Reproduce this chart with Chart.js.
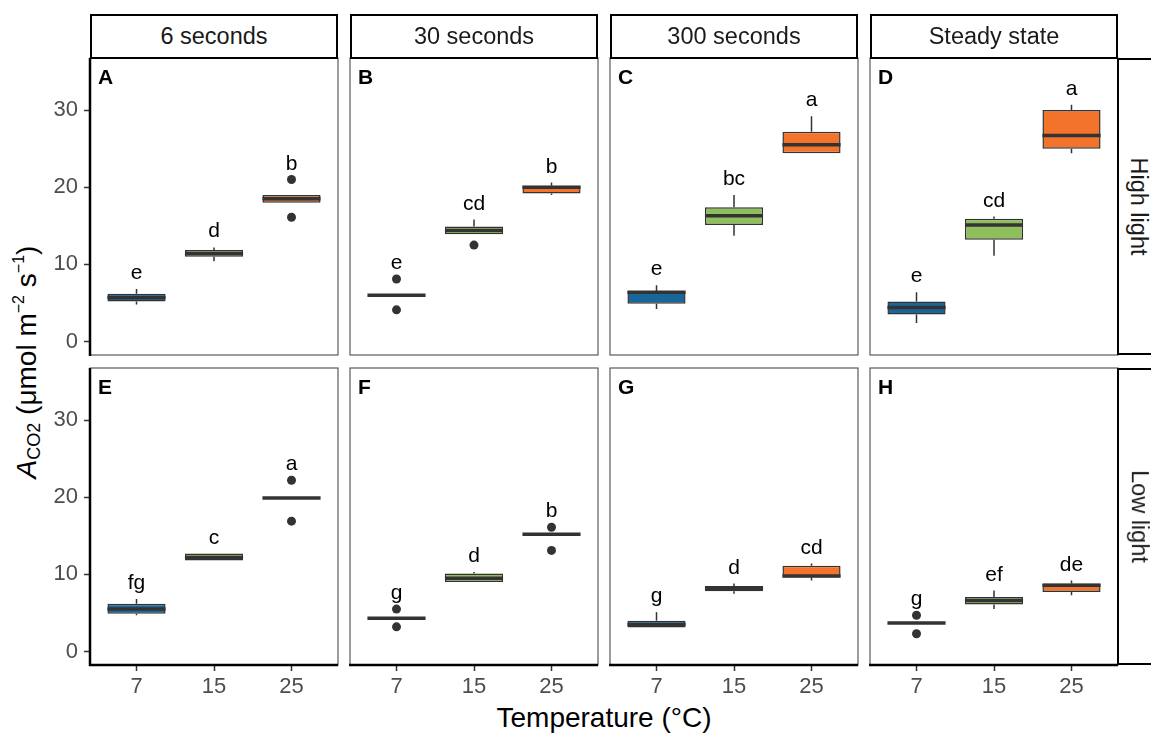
<!DOCTYPE html>
<html>
<head>
<meta charset="utf-8">
<script src="https://cdn.jsdelivr.net/npm/chart.js@4.4.0/dist/chart.umd.min.js"></script>
<style>
body { margin: 0; width: 1151px; height: 735px; overflow: hidden; background: #fff; position: relative; font-family: 'Liberation Sans', Arial, sans-serif; }
canvas { position: absolute; }
.strip { position: absolute; box-sizing: border-box; border: 2px solid #000; background: #fff; color: #1a1a1a; font-size: 23.5px; display: flex; align-items: center; justify-content: center; white-space: nowrap; }
.rstrip span { display: inline-block; transform: rotate(90deg); }
.ytitle { position: absolute; left: 27px; top: 362px; width: 0; height: 0; }
.ytitle div { position: absolute; transform: translate(-50%, -50%) rotate(-90deg); white-space: nowrap; font-size: 28px; color: #000; }
.ytitle sub { font-size: 18px; vertical-align: -4px; }
.ytitle sup { font-size: 16px; vertical-align: 12px; }
.xtitle { position: absolute; left: 0; width: 1208px; top: 702px; text-align: center; font-size: 28px; color: #000; }
</style>
</head>
<body>
<div class="ytitle"><div><i>A</i><sub>CO2</sub> (μmol m<sup>−2</sup> s<sup>−1</sup>)</div></div>
<div class="xtitle">Temperature (°C)</div>
<script>
var temps = ['7', '15', '25'];
var times = ['6 seconds', '30 seconds', '300 seconds', 'Steady state'];
var lights = ['High light', 'Low light'];
var tags = ['A', 'B', 'C', 'D', 'E', 'F', 'G', 'H'];
var yTicks = [0, 10, 20, 30];

// [lower whisker, Q1, median, Q3, upper whisker] for 7, 15, 25 °C
var boxA = [[4.8, 5.2, 5.7, 6.2, 6.8], [10.4, 11.0, 11.4, 11.85, 12.2], [18.0, 18.0, 18.5, 19.0, 19.0]];
var boxB = [[6.0, 6.0, 6.0, 6.0, 6.0], [13.9, 13.9, 14.4, 14.9, 15.8], [19.0, 19.2, 20.0, 20.2, 20.6]];
var boxC = [[4.2, 4.9, 6.4, 6.5, 7.3], [13.7, 15.1, 16.3, 17.4, 19.0], [24.4, 24.4, 25.5, 27.2, 29.2]];
var boxD = [[2.4, 3.5, 4.4, 5.2, 6.4], [11.1, 13.2, 15.1, 15.9, 16.2], [24.4, 25.0, 26.7, 30.0, 30.7]];
var boxE = [[4.7, 4.9, 5.5, 6.2, 6.8], [11.8, 11.8, 12.2, 12.7, 12.7], [19.9, 19.9, 19.9, 19.9, 19.9]];
var boxF = [[4.3, 4.3, 4.3, 4.3, 4.3], [9.0, 9.0, 9.5, 10.1, 10.3], [15.2, 15.2, 15.2, 15.2, 15.2]];
var boxG = [[3.1, 3.1, 3.5, 4.0, 5.1], [7.5, 7.8, 8.2, 8.5, 8.8], [9.2, 9.6, 9.8, 11.1, 11.4]];
var boxH = [[3.7, 3.7, 3.7, 3.7, 3.7], [5.5, 6.1, 6.6, 7.05, 7.9], [7.3, 7.7, 8.6, 8.8, 9.2]];

var outA = [[], [], [21.0, 16.1]];
var outB = [[8.1, 4.1], [12.5], []];
var outC = [[], [], []];
var outD = [[], [], []];
var outE = [[], [], [22.2, 16.9]];
var outF = [[5.5, 3.2], [], [16.1, 13.1]];
var outG = [[], [], []];
var outH = [[4.7, 2.3], [], []];

var letA = ['e', 'd', 'b'];
var letB = ['e', 'cd', 'b'];
var letC = ['e', 'bc', 'a'];
var letD = ['e', 'cd', 'a'];
var letE = ['fg', 'c', 'a'];
var letF = ['g', 'd', 'b'];
var letG = ['g', 'd', 'cd'];
var letH = ['g', 'ef', 'de'];

var boxes = [boxA, boxB, boxC, boxD, boxE, boxF, boxG, boxH];
var outliers = [outA, outB, outC, outD, outE, outF, outG, outH];
var letters = [letA, letB, letC, letD, letE, letF, letG, letH];

var tempColors = ['#19679a', '#8fbf5c', '#f4732b'];
var colX = [90, 350, 610, 870];
var rowY = [58, 368];
var PW = 248, PH = 297, EDGE = 24, AXW = 60, AXH = 40;

Chart.defaults.font.family = "'Liberation Sans', Arial, sans-serif";

var boxPlugin = {
  id: 'boxParts',
  beforeDatasetsDraw: function(chart) {
    var p = chart.options.plugins.boxParts;
    var ctx = chart.ctx, xs = chart.scales.x, ys = chart.scales.y;
    ctx.save();
    ctx.strokeStyle = '#333';
    ctx.lineWidth = 1.5;
    p.box.forEach(function(b, i) {
      var x = xs.getPixelForValue(i + 1);
      ctx.beginPath();
      ctx.moveTo(x, ys.getPixelForValue(b[3]));
      ctx.lineTo(x, ys.getPixelForValue(b[4]));
      ctx.moveTo(x, ys.getPixelForValue(b[1]));
      ctx.lineTo(x, ys.getPixelForValue(b[0]));
      ctx.stroke();
    });
    ctx.restore();
  },
  afterDatasetsDraw: function(chart) {
    var p = chart.options.plugins.boxParts;
    var ctx = chart.ctx, xs = chart.scales.x, ys = chart.scales.y;
    var bars = chart.getDatasetMeta(0).data;
    ctx.save();
    ctx.strokeStyle = '#333';
    ctx.lineWidth = 3.5;
    p.box.forEach(function(b, i) {
      var x = xs.getPixelForValue(i + 1);
      var hw = bars[i].width / 2;
      var y = ys.getPixelForValue(b[2]);
      ctx.beginPath();
      ctx.moveTo(x - hw, y);
      ctx.lineTo(x + hw, y);
      ctx.stroke();
    });
    ctx.fillStyle = '#000';
    ctx.font = "21px 'Liberation Sans', Arial, sans-serif";
    ctx.textAlign = 'center';
    ctx.textBaseline = 'alphabetic';
    p.box.forEach(function(b, i) {
      var top = Math.max.apply(null, [b[4]].concat(p.out[i]));
      ctx.fillText(p.lab[i], xs.getPixelForValue(i + 1), ys.getPixelForValue(top) - 10);
    });
    ctx.restore();
  },
  afterDraw: function(chart) {
    var p = chart.options.plugins.boxParts;
    var ctx = chart.ctx, a = chart.chartArea;
    ctx.save();
    ctx.strokeStyle = '#5a5a5a';
    ctx.lineWidth = 1.2;
    ctx.strokeRect(a.left, a.top, a.right - a.left, a.bottom - a.top);
    ctx.strokeStyle = '#000';
    ctx.lineWidth = 2.5;
    if (p.col == 0) {
      ctx.beginPath();
      ctx.moveTo(a.left, a.top);
      ctx.lineTo(a.left, a.bottom + 1);
      ctx.stroke();
    }
    if (p.row == 1) {
      ctx.beginPath();
      ctx.moveTo(a.left - 1, a.bottom);
      ctx.lineTo(a.right, a.bottom);
      ctx.stroke();
    }
    ctx.fillStyle = '#000';
    ctx.font = "bold 21px 'Liberation Sans', Arial, sans-serif";
    ctx.textAlign = 'left';
    ctx.textBaseline = 'top';
    ctx.fillText(p.tag, a.left + 8, a.top + 10);
    ctx.restore();
  }
};

function makePanel(p) {
  var r = Math.floor(p / 4), c = p % 4;
  var padL = c == 0 ? AXW : 0;
  var padB = r == 1 ? AXH : 0;
  var cv = document.createElement('canvas');
  var w = PW + padL + 2 * EDGE, h = PH + padB + 2 * EDGE;
  cv.width = w;
  cv.height = h;
  cv.style.left = (colX[c] - padL - EDGE) + 'px';
  cv.style.top = (rowY[r] - EDGE) + 'px';
  cv.style.width = w + 'px';
  cv.style.height = h + 'px';
  document.body.appendChild(cv);

  var box = boxes[p];
  var pts = [];
  outliers[p].forEach(function(list, i) {
    list.forEach(function(v) { pts.push({ x: i + 1, y: v }); });
  });

  new Chart(cv.getContext('2d'), {
    type: 'bar',
    data: {
      datasets: [{
        data: box.map(function(b, i) { return { x: i + 1, y: [b[1], b[3]] }; }),
        backgroundColor: tempColors,
        borderColor: '#333',
        borderWidth: 1.5,
        borderSkipped: false,
        categoryPercentage: 1,
        barPercentage: 0.75
      }, {
        type: 'scatter',
        data: pts,
        pointRadius: 4.5,
        pointBackgroundColor: '#333',
        pointBorderWidth: 0
      }]
    },
    options: {
      responsive: false,
      animation: false,
      events: [],
      layout: { padding: EDGE },
      plugins: {
        legend: { display: false },
        tooltip: { enabled: false },
        boxParts: { box: box, out: outliers[p], lab: letters[p], tag: tags[p], row: r, col: c }
      },
      scales: {
        x: {
          type: 'linear',
          min: 0.4,
          max: 3.6,
          offset: false,
          display: r == 1,
          afterBuildTicks: function(s) { s.ticks = temps.map(function(t, i) { return { value: i + 1 }; }); },
          afterFit: function(s) { s.height = padB; },
          ticks: {
            autoSkip: false,
            maxRotation: 0,
            padding: 3,
            color: '#4d4d4d',
            font: { size: 22 },
            callback: function(v) { return temps[v - 1]; }
          },
          grid: { display: true, offset: false, drawOnChartArea: false, drawTicks: true, tickLength: 6, tickColor: '#333', tickWidth: 1.5 },
          border: { display: false }
        },
        y: {
          type: 'linear',
          min: -1.75,
          max: 36.75,
          display: c == 0,
          afterBuildTicks: function(s) { s.ticks = yTicks.map(function(v) { return { value: v }; }); },
          afterFit: function(s) { s.width = padL; },
          ticks: { padding: 6, color: '#4d4d4d', font: { size: 22 } },
          grid: { display: true, drawOnChartArea: false, drawTicks: true, tickLength: 6, tickColor: '#333', tickWidth: 1.5 },
          border: { display: false }
        }
      }
    },
    plugins: [boxPlugin]
  });
}

for (var p = 0; p < 8; p++) makePanel(p);

// facet strips
times.forEach(function(t, c) {
  var d = document.createElement('div');
  d.className = 'strip';
  d.style.left = colX[c] + 'px';
  d.style.top = '14px';
  d.style.width = PW + 'px';
  d.style.height = (rowY[0] - 14 + 1) + 'px';
  d.textContent = t;
  document.body.appendChild(d);
});
lights.forEach(function(t, r) {
  var d = document.createElement('div');
  d.className = 'strip rstrip';
  d.style.left = (colX[3] + PW - 1) + 'px';
  d.style.top = rowY[r] + 'px';
  d.style.width = '44px';
  d.style.height = PH + 'px';
  var s = document.createElement('span');
  s.textContent = t;
  d.appendChild(s);
  document.body.appendChild(d);
});
</script>
</body>
</html>
